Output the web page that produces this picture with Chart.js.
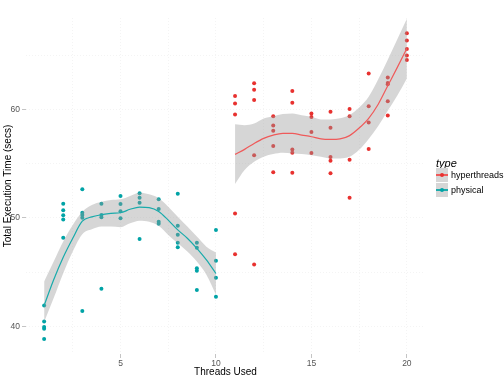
<!DOCTYPE html>
<html><head><meta charset="utf-8">
<script src="https://cdn.jsdelivr.net/npm/chart.js@4.4.1/dist/chart.umd.min.js"></script>
<style>
html,body{margin:0;padding:0;background:#fff;}
#wrap{position:relative;width:504px;height:379px;overflow:hidden;}
canvas{position:absolute;left:0;top:0;}
.lg{position:absolute;font-family:"Liberation Sans",Arial,sans-serif;color:#000;white-space:nowrap;}
.key{position:absolute;width:12px;height:14px;background:#d6d6d6;}
.key .ln{position:absolute;left:0;top:6.4px;width:12px;height:1.2px;}
.key .dt{position:absolute;left:4px;top:5px;width:4px;height:4px;border-radius:50%;}
</style></head><body>
<div id="wrap">
<canvas id="c" width="504" height="379"></canvas>
<div class="lg" style="left:436px;top:157px;font-size:11px;font-style:italic;">type</div>
<div class="key" style="left:436px;top:168px;"><div class="ln" style="background:#ef5a5a"></div><div class="dt" style="background:#e8312f"></div></div>
<div class="lg" style="left:451px;top:169.5px;font-size:9px;">hyperthreads</div>
<div class="key" style="left:436px;top:183px;"><div class="ln" style="background:#19abab"></div><div class="dt" style="background:#00a3a6"></div></div>
<div class="lg" style="left:451px;top:184.5px;font-size:9px;">physical</div>
</div>
<script>
// ---- data ----
const seriesNames = ["hyperthreads", "physical"];

const physicalThreads = [1, 2, 3, 4, 5, 6, 7, 8, 9, 10];
const physicalTimes = [
  [41.92, 40.44, 39.93, 39.77, 38.82],
  [51.32, 50.71, 50.25, 49.85, 48.18],
  [52.65, 50.49, 50.28, 50.03, 41.40],
  [51.32, 50.28, 50.06, 43.46],
  [52.03, 51.29, 50.62, 49.97],
  [52.28, 51.87, 51.41, 48.06],
  [51.72, 50.83, 49.66, 49.47],
  [52.24, 49.29, 48.46, 47.70, 47.30],
  [47.72, 47.26, 45.36, 45.12, 43.34],
  [48.89, 46.06, 44.47, 42.72]
];

const hyperThreads = [11, 12, 13, 14, 15, 16, 17, 18, 19, 20];
const hyperTimes = [
  [61.27, 60.57, 59.56, 50.40, 46.65],
  [62.44, 61.83, 60.88, 55.78, 45.70],
  [59.40, 58.54, 58.05, 56.64, 54.21],
  [61.73, 60.63, 56.33, 56.02, 54.18],
  [59.65, 59.31, 57.93, 55.99],
  [59.80, 58.32, 55.62, 55.28, 54.12],
  [60.05, 59.40, 55.37, 51.87],
  [63.34, 60.31, 58.82, 56.36],
  [62.97, 62.47, 62.35, 60.78, 59.47],
  [67.05, 66.38, 65.60, 65.00, 64.59]
];

// smoothed (loess) curves and confidence band
const physSmoothX = [1, 1.5, 2, 2.5, 3, 3.5, 4, 4.5, 5, 5.5, 6, 6.5, 7, 7.5, 8, 8.5, 9, 9.5, 10];
const physSmooth  = [41.92, 44.29, 46.37, 48.13, 49.70, 50.10, 50.30, 50.43, 50.48, 50.80, 51.00, 50.95, 50.60, 49.80, 48.90, 48.13, 47.20, 46.13, 44.87];
const physUpper   = [44.13, 45.97, 47.82, 49.35, 50.58, 51.20, 51.50, 51.66, 51.72, 52.03, 52.33, 52.18, 51.82, 51.04, 50.12, 49.20, 48.28, 47.35, 46.80];
const physLower   = [40.40, 42.60, 44.90, 46.90, 48.50, 48.95, 49.20, 49.20, 49.14, 49.50, 49.75, 49.66, 49.28, 48.43, 47.67, 46.90, 45.97, 44.75, 42.90];

const hyperSmoothX = [11, 11.5, 12, 12.5, 13, 13.5, 14, 14.5, 15, 15.5, 16, 16.5, 17, 17.5, 18, 18.5, 19, 19.5, 20];
const hyperSmooth  = [55.87, 56.33, 56.88, 57.35, 57.65, 57.81, 57.81, 57.65, 57.50, 57.30, 57.25, 57.30, 57.60, 58.30, 59.20, 60.50, 62.20, 63.90, 65.64];
const hyperUpper   = [58.66, 58.57, 58.73, 59.19, 59.40, 59.59, 59.65, 59.49, 59.34, 59.10, 59.10, 59.20, 59.50, 60.20, 61.20, 62.80, 64.60, 66.50, 68.40];
const hyperLower   = [53.13, 54.42, 55.19, 55.65, 55.90, 56.02, 55.96, 55.90, 55.80, 55.65, 55.50, 55.50, 55.65, 56.30, 57.30, 58.50, 59.90, 61.30, 62.88];

const xMajorTicks = [5, 10, 15, 20];
const xGridTicks = [2.5, 5, 7.5, 10, 12.5, 15, 17.5, 20];
const yMajorTicks = [40, 50, 60];
const yGridTicks = [40, 45, 50, 55, 60, 65];

// ---- styling ----
const RED = "#e8312f", RED_LINE = "#ef5a5a";
const TEAL = "#00a3a6", TEAL_LINE = "#19abab";
const BAND = "rgba(153,153,153,0.4)";
const FONT = '"Liberation Sans", Arial, sans-serif';

function pts(threads, times) {
  const out = [];
  threads.forEach((t, i) => times[i].forEach(v => out.push({x: t, y: v})));
  return out;
}
function xy(xs, ys) { return xs.map((x, i) => ({x: x, y: ys[i]})); }

const bandCommon = {borderWidth: 0, pointRadius: 0, tension: 0.4, cubicInterpolationMode: 'monotone', order: 2};

const datasets = [
  Object.assign({label: 'hu', data: xy(hyperSmoothX, hyperUpper), fill: '+1', backgroundColor: BAND, borderColor: 'transparent'}, bandCommon),
  Object.assign({label: 'hl', data: xy(hyperSmoothX, hyperLower), fill: false, borderColor: 'transparent'}, bandCommon),
  Object.assign({label: 'pu', data: xy(physSmoothX, physUpper), fill: '+1', backgroundColor: BAND, borderColor: 'transparent'}, bandCommon),
  Object.assign({label: 'pl', data: xy(physSmoothX, physLower), fill: false, borderColor: 'transparent'}, bandCommon),
  {label: seriesNames[0] + ' smooth', data: xy(hyperSmoothX, hyperSmooth), borderColor: RED_LINE, borderWidth: 1.2, pointRadius: 0, fill: false, tension: 0.4, cubicInterpolationMode: 'monotone', order: 1},
  {label: seriesNames[1] + ' smooth', data: xy(physSmoothX, physSmooth), borderColor: TEAL_LINE, borderWidth: 1.2, pointRadius: 0, fill: false, tension: 0.4, cubicInterpolationMode: 'monotone', order: 1},
  {label: seriesNames[0], data: pts(hyperThreads, hyperTimes), showLine: false, pointRadius: 2, pointBorderWidth: 0, pointBackgroundColor: RED, borderColor: RED, order: 3},
  {label: seriesNames[1], data: pts(physicalThreads, physicalTimes), showLine: false, pointRadius: 2, pointBorderWidth: 0, pointBackgroundColor: TEAL, borderColor: TEAL, order: 3}
];

new Chart(document.getElementById('c'), {
  type: 'line',
  data: {datasets: datasets},
  options: {
    responsive: false,
    animation: false,
    layout: {padding: {left: 0, right: 79, top: 18, bottom: 0}},
    plugins: {legend: {display: false}, tooltip: {enabled: false}},
    scales: {
      x: {
        type: 'linear', min: 0.05, max: 20.95,
        afterBuildTicks: s => { s.ticks = xGridTicks.map(v => ({value: v})); },
        afterFit: s => { s.height = 25; },
        ticks: {
          autoSkip: false, maxRotation: 0, padding: 1, color: '#555',
          font: {family: FONT, size: 8.5},
          callback: v => xMajorTicks.includes(v) ? String(v) : ''
        },
        grid: {
          color: 'rgba(0,0,0,0.045)', lineWidth: 1, tickLength: 4,
          tickColor: c => (c.tick && xMajorTicks.includes(c.tick.value)) ? '#c4c4c4' : 'rgba(0,0,0,0)'
        },
        border: {display: false, dash: [1, 2]},
        title: {display: true, text: 'Threads Used', color: '#000', font: {family: FONT, size: 10}, padding: {top: 0, bottom: 1}}
      },
      y: {
        type: 'linear', min: 37.44, max: 68.46,
        afterBuildTicks: s => { s.ticks = yGridTicks.map(v => ({value: v})); },
        afterFit: s => { s.width = 26; },
        ticks: {
          autoSkip: false, padding: 2, color: '#555',
          font: {family: FONT, size: 8.5},
          callback: v => yMajorTicks.includes(v) ? String(v) : ''
        },
        grid: {
          color: 'rgba(0,0,0,0.045)', lineWidth: 1, tickLength: 4,
          tickColor: c => (c.tick && yMajorTicks.includes(c.tick.value)) ? '#c4c4c4' : 'rgba(0,0,0,0)'
        },
        border: {display: false, dash: [1, 2]},
        title: {display: true, text: 'Total Execution Time (secs)', color: '#000', font: {family: FONT, size: 10}, padding: {top: 2, bottom: 0}}
      }
    }
  }
});
</script>
</body></html>
